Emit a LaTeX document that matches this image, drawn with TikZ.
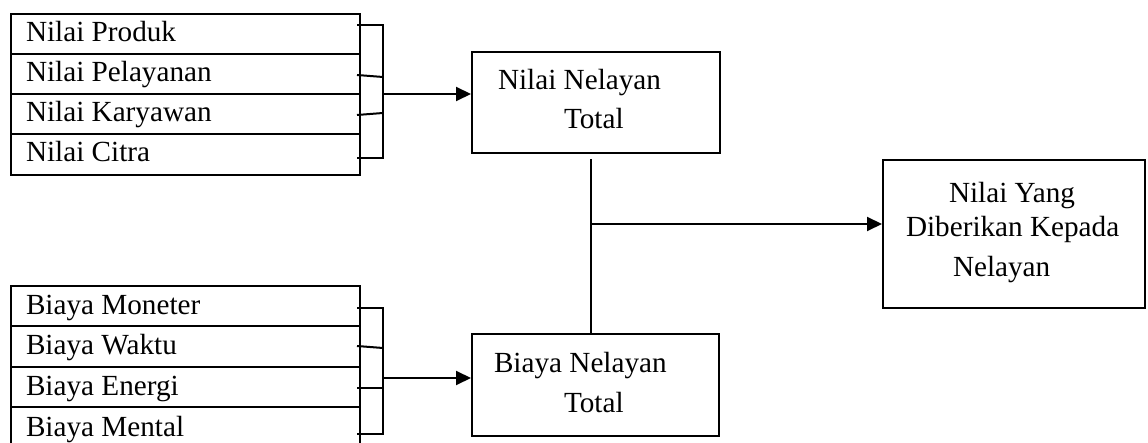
\documentclass[tikz,border=0pt]{standalone}
\usepackage{fontspec}
\setmainfont{Liberation Serif}
\usetikzlibrary{arrows.meta}
\begin{document}
\begin{tikzpicture}[x=1pt,y=-1pt,
  line width=2pt,
  cell/.style={draw, rectangle, anchor=north west, minimum width=349pt, minimum height=40pt, inner sep=0pt},
  box/.style={draw, rectangle, anchor=north west, inner sep=0pt},
  lbl/.style={anchor=base west, inner sep=0pt, font=\fontsize{29.2}{37}\selectfont},
  arr/.style={-{Triangle[length=15pt,width=14pt]}}]
\useasboundingbox (0,0) rectangle (1148,443);

% value components
\node[cell] (np) at (10,13) {};
\node[cell] (nl) at (10,53) {};
\node[cell] (nk) at (10,93) {};
\node[cell, minimum height=41pt] (nc) at (10,133) {};
\node[lbl] at (25,42) {Nilai Produk};
\node[lbl] at (25,82) {Nilai Pelayanan};
\node[lbl] at (25,122) {Nilai Karyawan};
\node[lbl] at (25,162) {Nilai Citra};

% cost components
\node[cell] (bm) at (10,285) {};
\node[cell, minimum height=41pt] (bw) at (10,325) {};
\node[cell] (be) at (10,366) {};
\node[cell] (bt) at (10,406) {};
\node[lbl] at (25,315) {Biaya Moneter};
\node[lbl] at (25,355) {Biaya Waktu};
\node[lbl] at (25,395) {Biaya Energi};
\node[lbl] at (25,436) {Biaya Mental};

% totals and result
\node[box, minimum width=248pt, minimum height=101pt] (nnt) at (471,51) {};
\node[lbl] at (497,90) {Nilai Nelayan};
\node[lbl] at (563,129) {Total};
\node[box, minimum width=247pt, minimum height=102pt] (bnt) at (471,333) {};
\node[lbl] at (493,373) {Biaya Nelayan};
\node[lbl] at (563,412) {Total};
\node[box, minimum width=262pt, minimum height=148pt] (nyd) at (882,159) {};
\node[lbl] at (948,203) {Nilai Yang};
\node[lbl] at (905,237) {Diberikan Kepada};
\node[lbl] at (952,277) {Nelayan};

% upper bracket
\coordinate (ta) at (357,25);  \coordinate (ba) at (383,25);
\coordinate (tb) at (357,75);  \coordinate (bb) at (383,77);
\coordinate (tc) at (357,115); \coordinate (bc) at (383,113);
\coordinate (td) at (357,158); \coordinate (bd) at (383,158);
\draw (ta) -- (ba) -- (bd) -- (td);
\draw (tb) -- (bb);
\draw (tc) -- (bc);
\coordinate (ma) at (383,94);
\draw[arr] (ma) -- (ma -| nnt.west);

% lower bracket
\coordinate (te) at (357,308); \coordinate (be1) at (383,308);
\coordinate (tf) at (357,346); \coordinate (bf) at (383,348);
\coordinate (tg) at (357,388); \coordinate (bg) at (383,388);
\coordinate (th) at (357,434); \coordinate (bh) at (383,434);
\draw (te) -- (be1) -- (bh) -- (th);
\draw (tf) -- (bf);
\draw (tg) -- (bg);
\coordinate (mb) at (383,378);
\draw[arr] (mb) -- (mb -| bnt.west);

% combination into the delivered value
\coordinate (vt) at (591,159);
\draw (vt) -- (vt |- bnt.north);
\coordinate (vm) at (591,224);
\draw[arr] (vm) -- (vm -| nyd.west);
\end{tikzpicture}
\end{document}
